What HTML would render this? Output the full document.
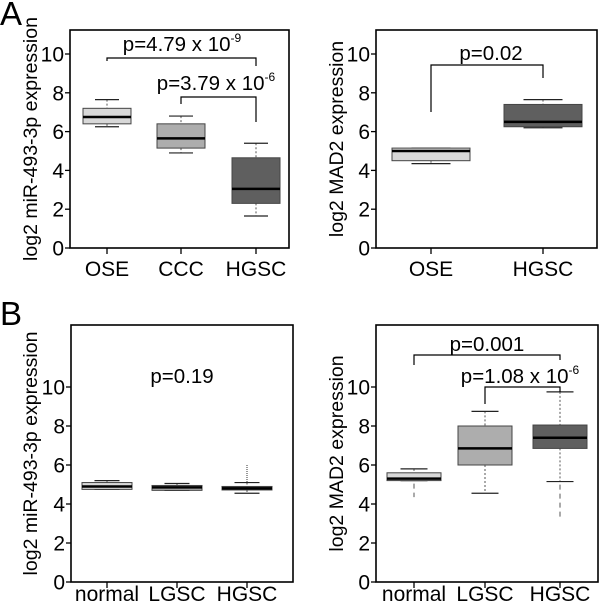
<!DOCTYPE html>
<html><head><meta charset="utf-8">
<style>
body{margin:0;background:#fff;}
svg{display:block;font-family:"Liberation Sans",Arial,sans-serif;}
</style></head>
<body>
<svg id="fig" width="600" height="605" viewBox="0 0 600 605"></svg>
<script>
// Panel A left
const aLeftCats = ["OSE","CCC","HGSC"];
const aLeftQ1 = [6.4, 5.15, 2.3];
const aLeftMed = [6.75, 5.65, 3.05];
const aLeftQ3 = [7.2, 6.4, 4.65];
const aLeftLo = [6.25, 4.9, 1.65];
const aLeftHi = [7.65, 6.8, 5.4];
// Panel A right
const aRightCats = ["OSE","HGSC"];
const aRightQ1 = [4.5, 6.25];
const aRightMed = [5.0, 6.5];
const aRightQ3 = [5.15, 7.4];
const aRightLo = [4.35, 6.2];
const aRightHi = [5.15, 7.65];
// Panel B left
const bLeftCats = ["normal","LGSC","HGSC"];
const bLeftQ1 = [4.75, 4.7, 4.72];
const bLeftMed = [4.9, 4.85, 4.8];
const bLeftQ3 = [5.1, 4.95, 4.9];
const bLeftLo = [4.75, 4.7, 4.55];
const bLeftHi = [5.2, 5.05, 5.1];
const bLeftOutHi = [null, null, 6.0];
// Panel B right
const bRightCats = ["normal","LGSC","HGSC"];
const bRightQ1 = [5.2, 6.0, 6.85];
const bRightMed = [5.3, 6.85, 7.4];
const bRightQ3 = [5.6, 8.0, 8.05];
const bRightLo = [5.2, 4.55, 5.15];
const bRightHi = [5.8, 8.75, 9.75];
const bRightOutLo = [4.35, null, 3.3];
const yTicks = [0,2,4,6,8,10];

const fills = {3:["#d8d8d8","#adadad","#5f5f5f"],2:["#d8d8d8","#5f5f5f"]};
const NS="http://www.w3.org/2000/svg";
const svg=document.getElementById('fig');
function mk(tag,attrs,parent,text){const e=document.createElementNS(NS,tag);for(const k in attrs)e.setAttribute(k,attrs[k]);if(text!==undefined)e.textContent=text;(parent||svg).appendChild(e);return e;}

function panel(p){
  const g=mk('g',{});
  
  
  const y=v=>p.y0+(p.y10-p.y0)*v/10;
  const x=i=>p.xs[i];
  const fr=mk('rect',{x:p.left,y:p.top,width:p.right-p.left,height:p.y0-p.top,fill:'none',stroke:'#000','stroke-width':1.6},g);
  
  
  yTicks.forEach(t=>{
    mk('line',{x1:p.left-5,x2:p.left,y1:y(t),y2:y(t),stroke:'#000','stroke-width':1.3},g);
    const tl=mk('text',{x:p.left-6,y:y(t)+7.5,'text-anchor':'end','font-size':21},g,String(t));
    
    
  });
  p.cats.forEach((c,i)=>{
    mk('line',{x1:x(i),x2:x(i),y1:p.y0,y2:p.y0+6,stroke:'#000','stroke-width':1.3},g);
    const xl=mk('text',{x:x(i),y:p.y0+p.xlabDy,'text-anchor':'middle','font-size':21},g,c);
    
    
    const bw=p.bw, col=fills[p.cats.length][i];
    mk('line',{x1:x(i),x2:x(i),y1:y(p.hi[i]),y2:y(p.q3[i]),stroke:'#555','stroke-width':1,'stroke-dasharray':'2,2'},g);
    mk('line',{x1:x(i),x2:x(i),y1:y(p.q1[i]),y2:y(p.lo[i]),stroke:'#555','stroke-width':1,'stroke-dasharray':'2,2'},g);
    mk('line',{x1:x(i)-bw/4,x2:x(i)+bw/4,y1:y(p.hi[i]),y2:y(p.hi[i]),stroke:'#222','stroke-width':1.2},g);
    mk('line',{x1:x(i)-bw/4,x2:x(i)+bw/4,y1:y(p.lo[i]),y2:y(p.lo[i]),stroke:'#222','stroke-width':1.2},g);
    const b=mk('rect',{x:x(i)-bw/2,y:y(p.q3[i]),width:bw,height:y(p.q1[i])-y(p.q3[i]),fill:col,stroke:'#444','stroke-width':1},g);
    
    
    mk('line',{x1:x(i)-bw/2,x2:x(i)+bw/2,y1:y(p.med[i]),y2:y(p.med[i]),stroke:'#000','stroke-width':2.5},g);
    if(p.outHi&&p.outHi[i]!=null) mk('line',{x1:x(i),x2:x(i),y1:y(p.outHi[i]),y2:y(p.hi[i]),stroke:'#333','stroke-width':1,'stroke-dasharray':'1,1'},g);
    if(p.outLo&&p.outLo[i]!=null) mk('line',{x1:x(i),x2:x(i),y1:y(p.lo[i])+3,y2:y(p.outLo[i]),stroke:'#555','stroke-width':1,'stroke-dasharray':'5,4'},g);
  });
  const yt=mk('text',{transform:`translate(${p.titleX},${(p.top+p.y0)/2}) rotate(-90)`,'text-anchor':'middle','font-size':19.5},g,p.ytitle);
  
  
  (p.brackets||[]).forEach(br=>{
    const a=x(br.i),b=x(br.j);
    const pl=mk('polyline',{points:`${a},${br.ly} ${a},${br.by} ${b},${br.by} ${b},${br.ry}`,fill:'none',stroke:'#000','stroke-width':1.2},g);
    
    
  });
  (p.labels||[]).forEach(l=>{
    const t=mk('text',{x:l.x,y:l.y,'text-anchor':'middle','font-size':20.5},g);
    
    
    mk('tspan',{},t,l.t);
    if(l.sup) mk('tspan',{dy:-9,'font-size':12},t,l.sup);
  });
}

panel({name:'panel-a-mir493',left:70,right:289,top:30,y0:248,y10:54,xs:[107,181,256],bw:48,xlabDy:28,titleX:37,
  cats:aLeftCats,q1:aLeftQ1,med:aLeftMed,q3:aLeftQ3,lo:aLeftLo,hi:aLeftHi,ytitle:'log2 miR-493-3p expression',
  brackets:[{i:0,j:2,by:58,ly:61,ry:66},{i:1,j:2,by:97,ly:104,ry:122}],
  labels:[{x:182,y:51,t:'p=4.79 x 10',sup:'-9'},{x:216,y:90,t:'p=3.79 x 10',sup:'-6'}]});
panel({name:'panel-a-mad2',left:376,right:597,top:30,y0:248,y10:54,xs:[431,543],bw:78,xlabDy:28,titleX:343,
  cats:aRightCats,q1:aRightQ1,med:aRightMed,q3:aRightQ3,lo:aRightLo,hi:aRightHi,ytitle:'log2 MAD2 expression',
  brackets:[{i:0,j:1,by:65,ly:112,ry:78}],
  labels:[{x:491,y:60,t:'p=0.02'}]});
panel({name:'panel-b-mir493',left:71,right:293,top:325,y0:582,y10:387,xs:[107,177,247],bw:50,xlabDy:19,titleX:37,
  cats:bLeftCats,q1:bLeftQ1,med:bLeftMed,q3:bLeftQ3,lo:bLeftLo,hi:bLeftHi,outHi:bLeftOutHi,ytitle:'log2 miR-493-3p expression',
  labels:[{x:182,y:383,t:'p=0.19'}]});
panel({name:'panel-b-mad2',left:376,right:598,top:325,y0:582,y10:387,xs:[414,485,560],bw:54,xlabDy:19,titleX:343,
  cats:bRightCats,q1:bRightQ1,med:bRightMed,q3:bRightQ3,lo:bRightLo,hi:bRightHi,outLo:bRightOutLo,ytitle:'log2 MAD2 expression',
  brackets:[{i:0,j:2,by:355,ly:365,ry:360},{i:1,j:2,by:387,ly:404,ry:392}],
  labels:[{x:487,y:351,t:'p=0.001'},{x:520,y:383,t:'p=1.08 x 10',sup:'-6'}]});

const A=mk('text',{x:0,y:25,'font-size':33},svg,'A');


const B=mk('text',{x:0,y:325,'font-size':33},svg,'B');


</script>
</body></html>
